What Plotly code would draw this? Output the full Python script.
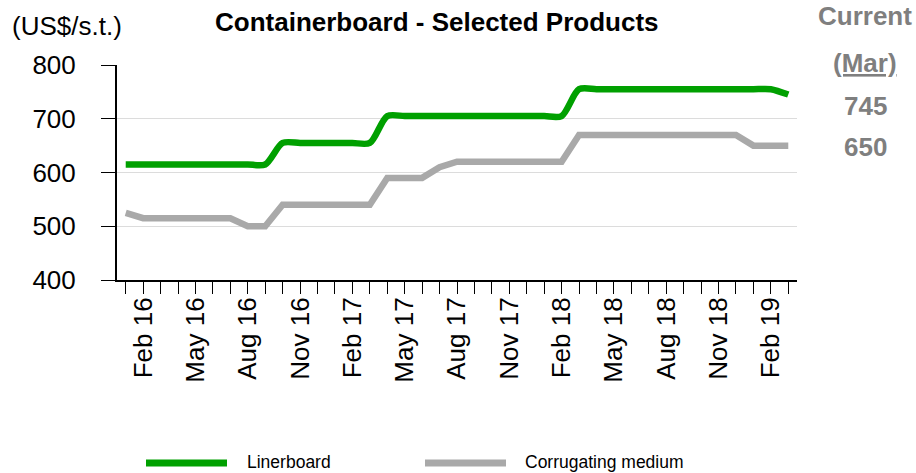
import plotly.graph_objects as go

# Monthly list prices, Jan 16 .. Mar 19 (US$/short ton)
months = [
    "Jan 16", "Feb 16", "Mar 16", "Apr 16", "May 16", "Jun 16", "Jul 16", "Aug 16", "Sep 16",
    "Oct 16", "Nov 16", "Dec 16", "Jan 17", "Feb 17", "Mar 17", "Apr 17", "May 17", "Jun 17",
    "Jul 17", "Aug 17", "Sep 17", "Oct 17", "Nov 17", "Dec 17", "Jan 18", "Feb 18", "Mar 18",
    "Apr 18", "May 18", "Jun 18", "Jul 18", "Aug 18", "Sep 18", "Oct 18", "Nov 18", "Dec 18",
    "Jan 19", "Feb 19", "Mar 19",
]
linerboard = [
    615, 615, 615, 615, 615, 615, 615, 615, 615,
    655, 655, 655, 655, 655, 655,
    705, 705, 705, 705, 705, 705, 705, 705, 705, 705, 705,
    755, 755, 755, 755, 755, 755, 755, 755, 755, 755, 755, 755,
    745,
]
medium = [
    525, 515, 515, 515, 515, 515, 515, 500, 500,
    540, 540, 540, 540, 540, 540,
    590, 590, 590, 610,
    620, 620, 620, 620, 620, 620, 620,
    670, 670, 670, 670, 670, 670, 670, 670, 670, 670,
    650, 650, 650,
]
label_months = ("Feb", "May", "Aug", "Nov")
current_label = ["Current", "(Mar)"]
current_values = ["745", "650"]

GREEN = "#00a000"
GREY = "#a9a9a9"
TEXT_GREY = "#7f7f7f"
FONT = "Liberation Sans, Arial"

W, H = 916, 473
L, R, T, B = 117, 119, 65, 193


def px_x(x):
    return (x - L) / (W - L - R)


def px_y(y):
    return (H - B - y) / (H - T - B)


x = list(range(len(months)))
tick_idx = [i for i, m in enumerate(months) if m.split()[0] in label_months]

fig = go.Figure()
fig.add_trace(
    go.Scatter(x=x, y=linerboard, mode="lines", name="Linerboard",
               line=dict(color=GREEN, width=6.5, shape="spline", smoothing=0.8),
               showlegend=False)
)
fig.add_trace(
    go.Scatter(x=x, y=medium, mode="lines", name="Corrugating medium",
               line=dict(color=GREY, width=6.5),
               showlegend=False)
)

annotations = [
    dict(text="(US$/s.t.)", x=px_x(10), y=px_y(26), xanchor="left", yanchor="middle",
         font=dict(size=26, color="black")),
    dict(text="<b>Containerboard - Selected Products</b>", x=px_x(437), y=px_y(22),
         xanchor="center", yanchor="middle",
         font=dict(size=26, color="black")),
    dict(text=f"<b>{current_label[0]}</b>", x=px_x(865), y=px_y(16),
         xanchor="center", yanchor="middle",
         font=dict(size=26, color=TEXT_GREY)),
    dict(text=f"<b><u>{current_label[1]}</u></b>", x=px_x(865), y=px_y(63),
         xanchor="center", yanchor="middle",
         font=dict(size=26, color=TEXT_GREY)),
]
for v, yy in zip(current_values, (106, 147)):
    annotations.append(
        dict(text=f"<b>{v}</b>", x=px_x(865), y=px_y(yy), xanchor="center", yanchor="middle",
             font=dict(size=26, color=TEXT_GREY))
    )

# hand-drawn legend along the bottom
shapes = []
for name, color, x0, tx in (("Linerboard", GREEN, 146, 245), ("Corrugating medium", GREY, 425, 523)):
    shapes.append(dict(type="line", xref="paper", yref="paper",
                       x0=px_x(x0), x1=px_x(x0 + 81), y0=px_y(463), y1=px_y(463),
                       line=dict(color=color, width=7)))
    annotations.append(dict(text=name, x=px_x(tx), y=px_y(462), xanchor="left", yanchor="middle",
                            font=dict(size=17.5, color="black")))

for a in annotations:
    a.update(xref="paper", yref="paper", showarrow=False)

fig.update_layout(
    width=W, height=H,
    margin=dict(l=L, r=R, t=T, b=B),
    paper_bgcolor="white", plot_bgcolor="white",
    font=dict(family=FONT),
    annotations=annotations,
    shapes=shapes,
    showlegend=False,
)
fig.update_xaxes(
    range=[-0.5, len(months) - 0.5],
    tickmode="array", tickvals=tick_idx, ticktext=[months[i] for i in tick_idx],
    tickangle=-90,
    ticks="outside", ticklen=12, tickwidth=1, tickcolor="black",
    minor=dict(ticks="outside", ticklen=12, tickwidth=1, tickcolor="black", dtick=1, tick0=0),
    showline=True, linecolor="black", linewidth=2,
    showgrid=False, zeroline=False,
    tickfont=dict(size=26, color="black"),
    ticklabelstandoff=-7,
)
fig.update_yaxes(
    range=[400, 800], dtick=100,
    ticks="outside", ticklen=14, tickwidth=1, tickcolor="black",
    showline=True, linecolor="black", linewidth=2,
    showgrid=True, gridcolor="#dcdcdc", gridwidth=1, zeroline=False,
    tickfont=dict(size=26, color="black"),
    ticklabelstandoff=20,
)

fig.write_html("out.html", config={"displayModeBar": False},
               post_script="document.body.style.margin='0';")
